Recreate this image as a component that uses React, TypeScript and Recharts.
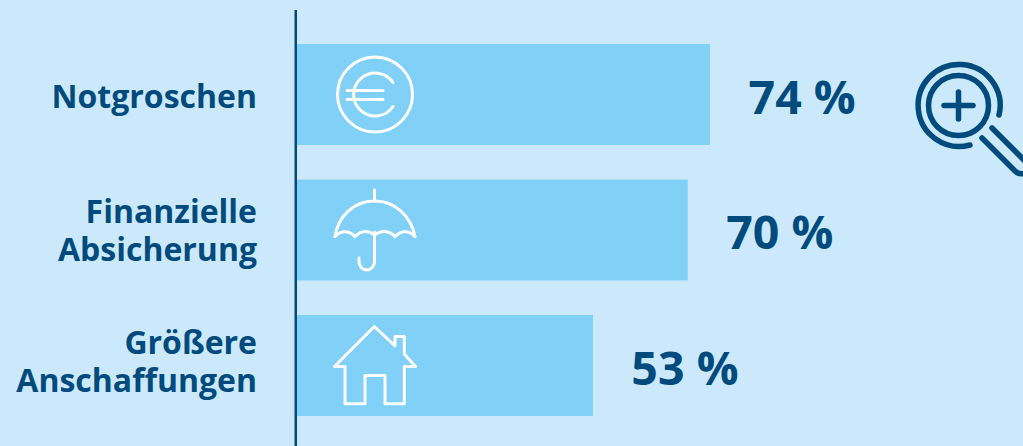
import React from "react";
import { BarChart, Bar, XAxis, YAxis, LabelList, Cell } from "recharts";

const categories = ["Notgroschen", "Finanzielle Absicherung", "Größere Anschaffungen"];
const shares = [74, 70, 53];
const iconNames = ["euro", "umbrella", "house"];
const labelShifts = [1, -0.5, -5];
const rows = categories.map((category, i) => ({ category, share: shares[i], icon: iconNames[i] }));

const BG = "#cce9fc";
const BAR = "#81d0f7";
const DARK = "#004b7d";
const FONT = "'Open Sans', sans-serif";

const EuroIcon = () => (
  <g>
    <circle cx={78} cy={0} r={37.5} />
    <path d="M96 -12 A21.5 21.5 0 1 0 96 12" />
    <path d="M50 -4 H86 M50 5 H86" />
  </g>
);
const UmbrellaIcon = () => (
  <g>
    <path d="M77.5 -40 V-29" />
    <path d="M38 6.5 C41 -14 57 -29 77.5 -29 C98 -29 114 -14 118 6.5" />
    <path d="M38 6.5 C44 0 52 0 58 6.5 C64 0 72 0 77.5 5 C84 0 92 0 98 6.5 C104 0 112 0 118 6.5" />
    <path d="M77.5 2 V31 C77.5 43 62 43 62 31 V28" />
  </g>
);
const HouseIcon = () => (
  <g>
    <path d="M77.3 -39 L37.5 1 H48 V38.2 H68 V10 H88 V38.2 H107.3 V1 H118.5 L107.3 -11.5 V-29 H98 V-19.7 Z" strokeLinejoin="round" />
  </g>
);
const icons: Record<string, React.FC> = { euro: EuroIcon, umbrella: UmbrellaIcon, house: HouseIcon };

const renderIcon = (props: any) => {
  const { x, y, height, value } = props;
  const Icon = icons[value];
  return (
    <g transform={`translate(${x}, ${y + height / 2})`} fill="none" stroke="#ffffff" strokeWidth={3} strokeLinecap="round">
      <Icon />
    </g>
  );
};

const renderValue = (props: any) => {
  const { x, y, width, height, value } = props;
  return (
    <text x={x + width + 38.5} y={y + height / 2 + 1} dominantBaseline="central" fill={DARK} fontFamily={FONT} fontWeight={700} fontSize={46.5}>
      {value} %
    </text>
  );
};

const CategoryTick = (props: any) => {
  const { x, y, payload, index } = props;
  const lines = String(payload.value).split(" ");
  const pitch = 38;
  const start = y + labelShifts[index] - ((lines.length - 1) * pitch) / 2;
  return (
    <text textAnchor="end" fill={DARK} fontFamily={FONT} fontWeight={700} fontSize={32}>
      {lines.map((line: string, i: number) => (
        <tspan key={line} x={x} y={start + i * pitch} dominantBaseline="central">
          {line}
        </tspan>
      ))}
    </text>
  );
};

const Magnifier = () => (
  <g fill="none" stroke={DARK} strokeWidth={5.5} strokeLinecap="round">
    <circle cx={958.5} cy={105.5} r={30} />
    <path d="M999 115 A41 41 0 1 0 970 145" />
    <path d="M944 105.5 H973 M958.5 92 V119" />
    <path d="M992 128 L1032 168 M982 138 L1015 171 C1020 176 1026 174 1032 168" />
  </g>
);

export default function App() {
  return (
    <div style={{ position: "absolute", left: 0, top: 0, width: 1023, height: 446, background: BG, overflow: "hidden" }}>
      <BarChart
        width={1023}
        height={446}
        data={rows}
        layout="vertical"
        margin={{ top: 27, right: 0, bottom: 12.5, left: 0 }}
      >
        <XAxis type="number" hide domain={[0, 130.05]} />
        <YAxis
          type="category"
          dataKey="category"
          width={297}
          axisLine={false}
          tickLine={false}
          tickMargin={0}
          tick={<CategoryTick x={257} />}
          interval={0}
        />
        <Bar dataKey="share" fill={BAR} barSize={101} isAnimationActive={false}>
          {rows.map((r) => (
            <Cell key={r.category} fill={BAR} />
          ))}
          <LabelList dataKey="icon" content={renderIcon} />
          <LabelList dataKey="share" content={renderValue} />
        </Bar>
        <line x1={295.75} x2={295.75} y1={10} y2={446} stroke={DARK} strokeWidth={2.5} />
        <Magnifier />
      </BarChart>
    </div>
  );
}
